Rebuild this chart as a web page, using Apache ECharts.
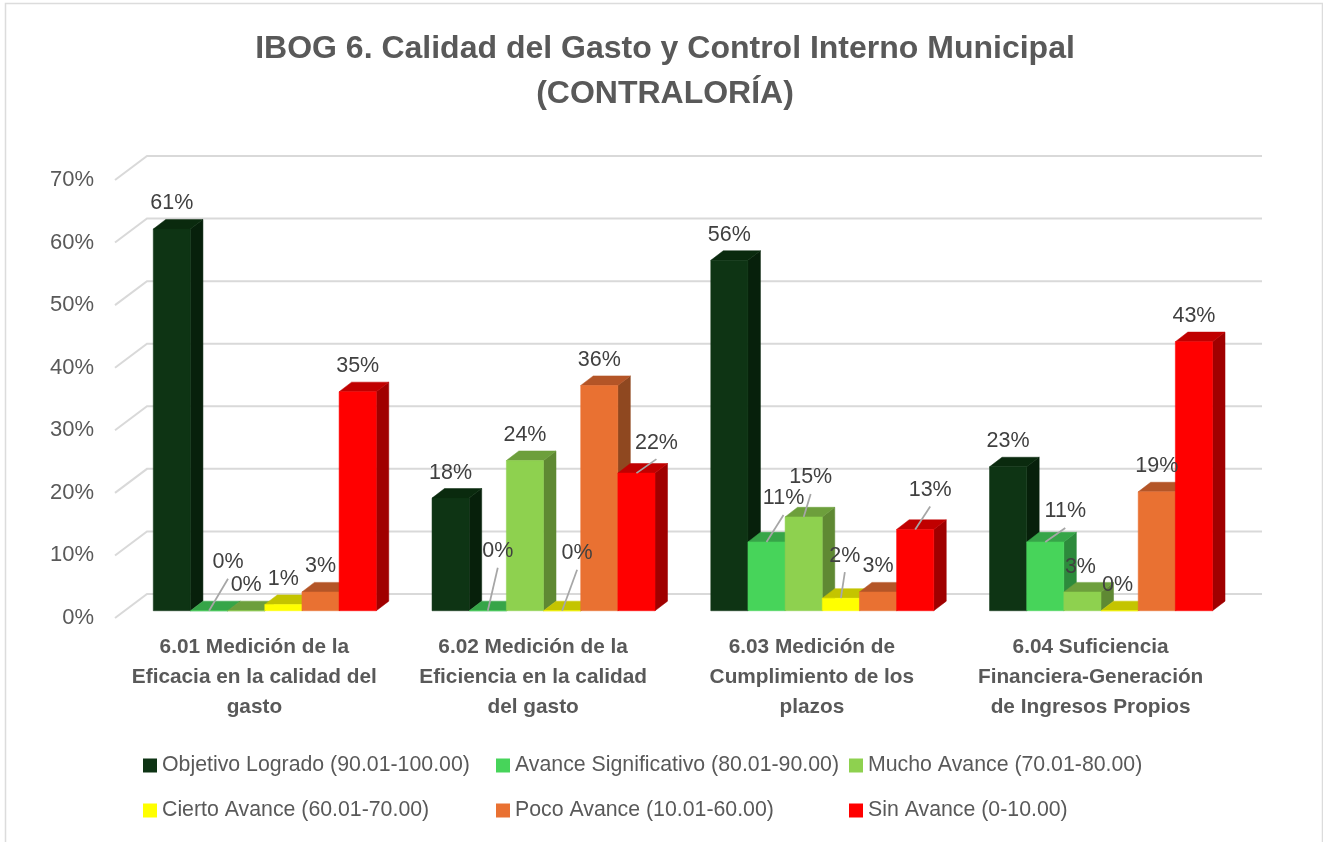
<!DOCTYPE html>
<html>
<head>
    <meta charset="utf-8">
    <title>IBOG 6. Calidad del Gasto y Control Interno Municipal</title>
    <script src="https://cdn.jsdelivr.net/npm/echarts@6/dist/echarts.min.js"></script>
    <style>
        html, body { margin: 0; padding: 0; background: #fff; }
        #main { width: 1323px; height: 842px; }
    </style>
</head>
<body>
<div id="main"></div>
<script type="text/javascript">
    var categorias = [
        '6.01 Medición de la\nEficacia en la calidad del\ngasto',
        '6.02 Medición de la\nEficiencia en la calidad\ndel gasto',
        '6.03 Medición de\nCumplimiento de los\nplazos',
        '6.04 Suficiencia\nFinanciera-Generación\nde Ingresos Propios'
    ];
    var marcasY = [0, 10, 20, 30, 40, 50, 60, 70];

    var objetivoLogrado = [61, 18, 56, 23];
    var avanceSignificativo = [0, 0, 11, 11];
    var muchoAvance = [0, 24, 15, 3];
    var ciertoAvance = [1, 0, 2, 0];
    var pocoAvance = [3, 36, 3, 19];
    var sinAvance = [35, 22, 13, 43];

    var nombres = [
        'Objetivo Logrado (90.01-100.00)',
        'Avance Significativo (80.01-90.00)',
        'Mucho Avance (70.01-80.00)',
        'Cierto Avance (60.01-70.00)',
        'Poco Avance (10.01-60.00)',
        'Sin Avance (0-10.00)'
    ];
    var valores = [objetivoLogrado, avanceSignificativo, muchoAvance, ciertoAvance, pocoAvance, sinAvance];

    // frente, tapa, lado
    var colores = [
        ['#0e3414', '#0a2a0e', '#07200b'],
        ['#47d45a', '#36a548', '#2d8a3c'],
        ['#8ed14f', '#6d9f3c', '#5f8933'],
        ['#ffff00', '#c4c400', '#a3a300'],
        ['#e97132', '#b45527', '#8f4820'],
        ['#ff0000', '#c00000', '#a00000']
    ];

    // etiquetas movidas a mano: "categoria,serie" -> [dx, dy, con linea guia]
    var etiquetasMovidas = {
        '0,1': [19, -50, true],
        '1,1': [10, -61, true],
        '1,3': [15, -59, true],
        '1,5': [20, -32, true],
        '2,1': [17, -45, true],
        '2,2': [7, -41, true],
        '2,3': [4, -44, true],
        '2,5': [15, -41, true],
        '3,1': [20, -32, true],
        '3,2': [-2, -26, false],
        '3,3': [-2, -27, false]
    };

    var PROF_PARED_X = 32, PROF_PARED_Y = 24;   // fondo del grafico 3D
    var PROF_BARRA_X = 12.5, PROF_BARRA_Y = 9.6;
    var AVANCE_X = 10.4, AVANCE_Y = -7.25;      // frente de la barra respecto al plano frontal
    var HUECO = 1.5;

    function baseBarra(api, cat, val, serie) {
        var p = api.coord([cat, val]);
        var ancho = api.size([1, 0])[0] / (valores.length + HUECO);
        var x = p[0] + AVANCE_X + (serie - valores.length / 2) * ancho;
        return { x: x, y: p[1] + AVANCE_Y, ancho: ancho, y0: api.coord([cat, 0])[1] + AVANCE_Y };
    }

    function cara(puntos, color) {
        return { type: 'polygon', shape: { points: puntos }, style: { fill: color, stroke: color, lineWidth: 0.5 } };
    }

    function barra3d(serie) {
        return function (params, api) {
            var b = baseBarra(api, api.value(0), api.value(1), serie);
            var c = colores[serie];
            var x1 = b.x + b.ancho;
            return {
                type: 'group',
                children: [
                    cara([[x1, b.y], [x1 + PROF_BARRA_X, b.y - PROF_BARRA_Y], [x1 + PROF_BARRA_X, b.y0 - PROF_BARRA_Y], [x1, b.y0]], c[2]),
                    cara([[b.x, b.y], [b.x + PROF_BARRA_X, b.y - PROF_BARRA_Y], [x1 + PROF_BARRA_X, b.y - PROF_BARRA_Y], [x1, b.y]], c[1]),
                    cara([[b.x, b.y], [x1, b.y], [x1, b.y0], [b.x, b.y0]], c[0])
                ]
            };
        };
    }

    function paredes(params, api) {
        var g = params.coordSys;
        var y = api.coord([0, api.value(1)])[1];
        return {
            type: 'polyline',
            shape: { points: [[g.x, y], [g.x + PROF_PARED_X, y - PROF_PARED_Y], [g.x + g.width + PROF_PARED_X, y - PROF_PARED_Y]] },
            style: { fill: null, stroke: '#d9d9d9', lineWidth: 2 }
        };
    }

    function etiqueta(params, api) {
        var cat = api.value(0), val = api.value(1), serie = api.value(2);
        var b = baseBarra(api, cat, val, serie);
        var cx = b.x + b.ancho / 2;
        var mov = etiquetasMovidas[cat + ',' + serie] || [0, -27, false];
        var tx = cx + mov[0], ty = b.y + mov[1];
        var hijos = [];
        if (mov[2]) {
            hijos.push({ type: 'line', shape: { x1: tx, y1: ty + 18, x2: cx, y2: b.y }, style: { stroke: '#a6a6a6', lineWidth: 1.75 } });
        }
        hijos.push({
            type: 'text',
            style: {
                x: tx, y: ty + 1.5, text: val + '%', align: 'center', verticalAlign: 'middle',
                fill: '#404040', font: '21.5px "Liberation Sans"'
            }
        });
        return { type: 'group', children: hijos };
    }

    var series = [{
        name: 'paredes', type: 'custom', renderItem: paredes, silent: true, z: 1,
        encode: { x: 0, y: 1 },
        data: marcasY.map(function (t) { return [0, t]; })
    }];
    valores.forEach(function (vals, s) {
        series.push({
            name: nombres[s], type: 'custom', renderItem: barra3d(s), z: 2 + s,
            itemStyle: { color: colores[s][0] },
            encode: { x: 0, y: 1 },
            data: vals.map(function (v, c) { return [c, v]; })
        });
    });
    var datosEtiquetas = [];
    valores.forEach(function (vals, s) {
        vals.forEach(function (v, c) { datosEtiquetas.push([c, v, s]); });
    });
    series.push({
        name: 'etiquetas', type: 'custom', renderItem: etiqueta, silent: true, z: 20,
        encode: { x: 0, y: 1 },
        data: datosEtiquetas
    });

    var colsLeyenda = [143, 496, 849], filasLeyenda = [755, 800];
    var leyendas = nombres.map(function (n, i) {
        return {
            data: [n],
            left: colsLeyenda[i % 3],
            top: filasLeyenda[Math.floor(i / 3)],
            padding: 0,
            icon: 'rect', itemWidth: 14, itemHeight: 14,
            selectedMode: false,
            textStyle: { color: '#595959', fontSize: 21.3, fontFamily: 'Liberation Sans' }
        };
    });

    var myChart = echarts.init(document.getElementById('main'), null, { renderer: 'canvas' });
    myChart.setOption({
        animation: false,
        backgroundColor: '#fff',
        title: {
            text: 'IBOG 6. Calidad del Gasto y Control Interno Municipal\n(CONTRALORÍA)',
            left: 660, top: 22, textAlign: 'center',
            textStyle: { color: '#595959', fontSize: 32, fontWeight: 'bold', lineHeight: 45, fontFamily: 'Liberation Sans' }
        },
        legend: leyendas,
        grid: { left: 115, right: 93, top: 180, bottom: 224 },
        xAxis: {
            type: 'category', data: categorias,
            axisLine: { show: false }, axisTick: { show: false }, splitLine: { show: false },
            axisLabel: { interval: 0, margin: 14, color: '#595959', fontSize: 20.8, fontWeight: 'bold', lineHeight: 30, fontFamily: 'Liberation Sans' }
        },
        yAxis: {
            type: 'value', min: 0, max: 70, interval: 10,
            axisLine: { show: false }, axisTick: { show: false }, splitLine: { show: false },
            axisLabel: { margin: 21, formatter: '{value}%', color: '#595959', fontSize: 22, fontFamily: 'Liberation Sans' }
        },
        graphic: [{
            type: 'rect', silent: true, z: -10,
            shape: { x: 5.5, y: 3.5, width: 1317, height: 860 },
            style: { fill: null, stroke: '#dcdcdc', lineWidth: 1.5 }
        }],
        series: series
    });
</script>
</body>
</html>
